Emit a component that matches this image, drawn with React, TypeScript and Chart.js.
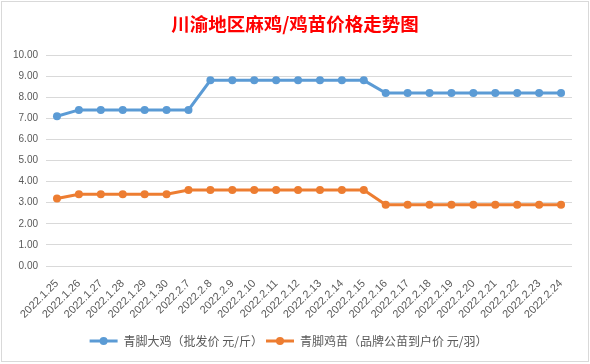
import React, { useEffect, useRef } from "react";
import { Chart, registerables } from "chart.js";

Chart.register(...registerables);

const TITLE = "川渝地区麻鸡/鸡苗价格走势图";
const CATEGORIES = [
  "2022.1.25", "2022.1.26", "2022.1.27", "2022.1.28", "2022.1.29", "2022.1.30",
  "2022.2.7", "2022.2.8", "2022.2.9", "2022.2.10", "2022.2.11", "2022.2.12",
  "2022.2.13", "2022.2.14", "2022.2.15", "2022.2.16", "2022.2.17", "2022.2.18",
  "2022.2.19", "2022.2.20", "2022.2.21", "2022.2.22", "2022.2.23", "2022.2.24",
];
const SERIES_A_NAME = "青脚大鸡（批发价 元/斤）";
const SERIES_A = [
  7.1, 7.4, 7.4, 7.4, 7.4, 7.4, 7.4, 8.8, 8.8, 8.8, 8.8, 8.8,
  8.8, 8.8, 8.8, 8.2, 8.2, 8.2, 8.2, 8.2, 8.2, 8.2, 8.2, 8.2,
];
const SERIES_B_NAME = "青脚鸡苗（品牌公苗到户价 元/羽）";
const SERIES_B = [
  3.2, 3.4, 3.4, 3.4, 3.4, 3.4, 3.6, 3.6, 3.6, 3.6, 3.6, 3.6,
  3.6, 3.6, 3.6, 2.9, 2.9, 2.9, 2.9, 2.9, 2.9, 2.9, 2.9, 2.9,
];
const Y_MIN = 0;
const Y_MAX = 10;
const Y_STEP = 1;

const BLUE = "#5b9bd5";
const ORANGE = "#ed7d31";
const GRAY_TEXT = "#595959";

const legendMarkerPlugin = {
  id: "legendMarker",
  afterDraw(chart: any) {
    const legend = chart.legend;
    if (!legend || !legend.legendHitBoxes) return;
    const ctx = chart.ctx;
    const boxW = legend.options.labels.boxWidth;
    legend.legendHitBoxes.forEach((hb: any, i: number) => {
      const item = legend.legendItems[i];
      const cx = hb.left + boxW / 2;
      const cy = hb.top + hb.height / 2;
      ctx.save();
      ctx.fillStyle = item.fillStyle;
      ctx.beginPath();
      ctx.arc(cx, cy, 4, 0, Math.PI * 2);
      ctx.fill();
      ctx.restore();
    });
  },
};

const titlePlugin = {
  id: "offsetTitle",
  afterDraw(chart: any) {
    const ctx = chart.ctx;
    ctx.save();
    ctx.fillStyle = "#ff0000";
    ctx.font = "bold 18.5px 'Noto Sans CJK SC'";
    ctx.textAlign = "center";
    ctx.textBaseline = "middle";
    ctx.fillText(TITLE, chart.width / 2, 24);
    ctx.restore();
  },
};

export default function App() {
  const canvasRef = useRef<HTMLCanvasElement | null>(null);

  useEffect(() => {
    document.body.style.margin = "0";
    const canvas = canvasRef.current;
    if (!canvas) return;
    const chart = new Chart(canvas, {
      type: "line",
      data: {
        labels: CATEGORIES,
        datasets: [
          {
            label: SERIES_A_NAME,
            data: SERIES_A,
            borderColor: BLUE,
            backgroundColor: BLUE,
            borderWidth: 3,
            pointRadius: 4,
            pointBackgroundColor: BLUE,
            pointBorderColor: BLUE,
            pointBorderWidth: 0,
            tension: 0,
          },
          {
            label: SERIES_B_NAME,
            data: SERIES_B,
            borderColor: ORANGE,
            backgroundColor: ORANGE,
            borderWidth: 3,
            pointRadius: 4,
            pointBackgroundColor: ORANGE,
            pointBorderColor: ORANGE,
            pointBorderWidth: 0,
            tension: 0,
          },
        ],
      },
      options: {
        animation: false,
        responsive: false,
        maintainAspectRatio: false,
        layout: { padding: { left: 5, right: 18, top: 55, bottom: 7 } },
        plugins: {
          title: { display: false },
          legend: {
            position: "bottom",
            labels: {
              boxWidth: 28,
              boxHeight: 3,
              padding: 3,
              color: GRAY_TEXT,
              font: { family: "'Noto Sans CJK SC'", size: 12 },
              generateLabels(chart: any) {
                return chart.data.datasets.map((ds: any, i: number) => ({
                  text: ds.label,
                  fillStyle: ds.borderColor,
                  strokeStyle: ds.borderColor,
                  lineWidth: 0,
                  hidden: false,
                  datasetIndex: i,
                  fontColor: GRAY_TEXT,
                }));
              },
            },
          },
          tooltip: { enabled: false },
        },
        scales: {
          x: {
            offset: true,
            grid: { display: false, drawTicks: false },
            border: { display: false },
            ticks: {
              minRotation: 45,
              maxRotation: 45,
              autoSkip: false,
              color: GRAY_TEXT,
              padding: 11,
              font: { family: "'Liberation Sans'", size: 11 },
            },
          },
          y: {
            min: Y_MIN,
            max: Y_MAX,
            grid: { color: "#d9d9d9", drawTicks: false, lineWidth: 1 },
            border: { display: false },
            ticks: {
              stepSize: Y_STEP,
              color: GRAY_TEXT,
              padding: 8,
              font: { family: "'Liberation Sans'", size: 10 },
              callback: (v: any) => Number(v).toFixed(2),
            },
          },
        },
      },
      plugins: [legendMarkerPlugin, titlePlugin],
    });
    return () => chart.destroy();
  }, []);

  return (
    <div style={{ position: "relative", width: 590, height: 364, background: "#fff" }}>
      <canvas ref={canvasRef} width={590} height={364} style={{ display: "block" }} />
      <div
        style={{
          position: "absolute",
          left: 1,
          top: 1,
          width: 586,
          height: 359,
          border: "1px solid #d9d9d9",
          pointerEvents: "none",
        }}
      />
    </div>
  );
}
